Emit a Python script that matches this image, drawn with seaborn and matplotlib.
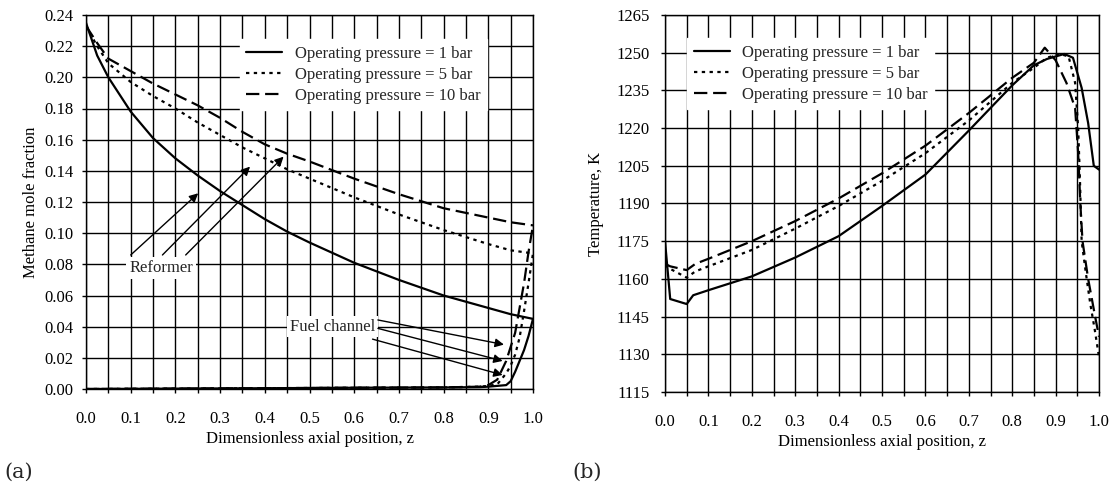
import numpy as np
import pandas as pd
import matplotlib
matplotlib.use("Agg")
import matplotlib.pyplot as plt
import seaborn as sns
from matplotlib.ticker import MultipleLocator
from matplotlib.lines import Line2D

sns.set_theme(style="white")
plt.rcParams['font.family'] = ['Liberation Serif', 'DejaVu Serif']

labels = ["Operating pressure = 1 bar", "Operating pressure = 5 bar", "Operating pressure = 10 bar"]

# ---- (a) methane mole fraction, reformer side ----
z_ref = [0.0, 0.025, 0.05, 0.1, 0.15, 0.2, 0.25, 0.3, 0.35, 0.4, 0.45, 0.5, 0.6, 0.7, 0.8, 0.9, 0.95, 1.0]
ch4_ref_1 = [0.235, 0.214, 0.200, 0.178, 0.161, 0.148, 0.137, 0.127, 0.118, 0.109, 0.101, 0.094, 0.081, 0.070, 0.060, 0.052, 0.048, 0.045]
ch4_ref_5 = [0.233, 0.220, 0.209, 0.197, 0.188, 0.180, 0.171, 0.163, 0.155, 0.148, 0.141, 0.135, 0.123, 0.112, 0.102, 0.093, 0.089, 0.087]
ch4_ref_10 = [0.233, 0.222, 0.212, 0.204, 0.196, 0.189, 0.182, 0.174, 0.165, 0.157, 0.151, 0.146, 0.135, 0.125, 0.116, 0.110, 0.107, 0.105]

# ---- (a) methane mole fraction, fuel channel ----
z_fuel = [0.0, 0.4, 0.6, 0.8, 0.88, 0.9, 0.92, 0.94, 0.95, 0.96, 0.97, 0.98, 0.99, 1.0]
ch4_fuel_1 = [0.0, 0.0005, 0.0008, 0.001, 0.0012, 0.0015, 0.002, 0.0025, 0.005, 0.011, 0.018, 0.025, 0.034, 0.045]
ch4_fuel_5 = [0.0, 0.0005, 0.0008, 0.001, 0.0015, 0.002, 0.003, 0.010, 0.015, 0.022, 0.033, 0.050, 0.068, 0.087]
ch4_fuel_10 = [0.0, 0.0005, 0.0008, 0.001, 0.0015, 0.0025, 0.006, 0.018, 0.027, 0.036, 0.052, 0.068, 0.088, 0.105]

# ---- (b) temperature ----
z_T1 = [0.0, 0.012, 0.05, 0.065, 0.1, 0.2, 0.3, 0.4, 0.5, 0.6, 0.7, 0.8, 0.85, 0.88, 0.92, 0.94, 0.96, 0.975, 0.988, 1.0]
T_1 = [1175, 1152, 1150, 1153.5, 1155.5, 1161, 1168.5, 1177, 1189, 1201.5, 1219, 1237, 1245, 1247.5, 1249.5, 1248, 1236, 1222, 1205, 1203.5]
z_T5 = [0.0, 0.012, 0.05, 0.07, 0.1, 0.2, 0.3, 0.4, 0.5, 0.6, 0.7, 0.8, 0.85, 0.88, 0.91, 0.93, 0.945, 0.952, 0.956, 0.96, 0.97, 0.98, 0.99, 1.0]
T_5 = [1165.5, 1164, 1160.5, 1163, 1165, 1171.5, 1180, 1189, 1199, 1210, 1223, 1238, 1244, 1248, 1249.5, 1248.5, 1238, 1220, 1200, 1175, 1162, 1150, 1140, 1129]
z_T10 = [0.0, 0.012, 0.05, 0.07, 0.1, 0.2, 0.3, 0.4, 0.5, 0.6, 0.7, 0.8, 0.85, 0.875, 0.9, 0.925, 0.945, 0.952, 0.957, 0.962, 0.975, 0.99, 1.0]
T_10 = [1166, 1165, 1163.5, 1166, 1168, 1175, 1183, 1192, 1202, 1213, 1226, 1240, 1246, 1252, 1247, 1238, 1228, 1210, 1190, 1175, 1160, 1146, 1137]

x_ticks = [0.0, 0.1, 0.2, 0.3, 0.4, 0.5, 0.6, 0.7, 0.8, 0.9, 1.0]
y_ticks_a = [0.00, 0.02, 0.04, 0.06, 0.08, 0.10, 0.12, 0.14, 0.16, 0.18, 0.20, 0.22, 0.24]
y_ticks_b = [1115, 1130, 1145, 1160, 1175, 1190, 1205, 1220, 1235, 1250, 1265]

styles = ['-', (0, (1.5, 2.0)), (0, (6.0, 2.6))]
LW = 1.6
FS = 12

fig = plt.figure(figsize=(11.13, 4.93), dpi=100)
W, H = 1113.0, 493.0
axA = fig.add_axes([86 / W, (H - 389) / H, 447 / W, 374 / H])
axB = fig.add_axes([665 / W, (H - 392) / H, 434 / W, 377 / H])

def draw(ax, x, y, ls):
    df = pd.DataFrame({"z": x, "v": y})
    sns.lineplot(data=df, x="z", y="v", ax=ax, color="black", linewidth=LW,
                 linestyle=ls, sort=False, legend=False, zorder=3)

for ys, ls in zip([ch4_ref_1, ch4_ref_5, ch4_ref_10], styles):
    draw(axA, z_ref, ys, ls)
for ys, ls in zip([ch4_fuel_1, ch4_fuel_5, ch4_fuel_10], styles):
    draw(axA, z_fuel, ys, ls)
for zs, ys, ls in zip([z_T1, z_T5, z_T10], [T_1, T_5, T_10], styles):
    draw(axB, zs, ys, ls)

def style_axes(ax, yticks, yfmt, ypad):
    ax.set_xlim(0, 1)
    ax.set_ylim(yticks[0], yticks[-1])
    ax.set_xticks(x_ticks)
    ax.set_xticklabels([f"{t:.1f}" for t in x_ticks])
    ax.xaxis.set_minor_locator(MultipleLocator(0.05))
    ax.set_yticks(yticks)
    ax.set_yticklabels([yfmt.format(t) for t in yticks])
    ax.grid(True, which="both", axis="x", color="black", linewidth=1.0)
    ax.grid(True, which="major", axis="y", color="black", linewidth=1.0)
    ax.tick_params(axis="both", which="both", direction="out", length=3, width=1,
                   color="black", labelsize=FS, labelcolor="black")
    ax.tick_params(axis="x", which="both", pad=13, bottom=True)
    ax.tick_params(axis="y", which="both", pad=ypad, left=True)
    for sp in ax.spines.values():
        sp.set_color("black")
        sp.set_linewidth(1.0)
    ax.set_xlabel("Dimensionless axial position, z", fontsize=FS, color="black", labelpad=3)

style_axes(axA, y_ticks_a, "{:.2f}", 6)
style_axes(axB, y_ticks_b, "{:.0f}", 8)
axA.set_ylabel("Methane mole fraction", fontsize=FS, color="black", labelpad=4)
axB.set_ylabel("Temperature, K", fontsize=FS, color="black", labelpad=9)

handles = [Line2D([0], [0], color="black", lw=LW, linestyle=ls) for ls in styles]
for ax, anchor in [(axA, (0.344, 0.936)), (axB, (0.051, 0.939))]:
    leg = ax.legend(handles, labels, loc="upper left", bbox_to_anchor=anchor,
                    fontsize=FS, frameon=True, fancybox=False, framealpha=1,
                    edgecolor="white", facecolor="white", handlelength=2.15,
                    handletextpad=0.75, labelspacing=0.3, borderpad=0.4,
                    borderaxespad=0)
    leg.set_zorder(5)

box = dict(facecolor="white", edgecolor="none", pad=2)
axA.text(0.168, 0.0776, "Reformer", ha="center", va="center", fontsize=FS,
         bbox=box, zorder=6)
arrow = dict(arrowstyle="-|>", color="black", lw=1.0, mutation_scale=13, shrinkA=0, shrinkB=0)
for tail, head in [((0.10, 0.086), (0.251, 0.1256)),
                   ((0.171, 0.086), (0.367, 0.1427)),
                   ((0.223, 0.086), (0.442, 0.1491))]:
    axA.annotate("", xy=head, xytext=tail, arrowprops=arrow, zorder=6)

axA.text(0.552, 0.040, "Fuel channel", ha="center", va="center", fontsize=FS,
         bbox=box, zorder=6)
for tail, head in [((0.653, 0.0443), (0.935, 0.0285)),
                   ((0.653, 0.0389), (0.932, 0.0180)),
                   ((0.641, 0.0320), (0.932, 0.0090))]:
    axA.annotate("", xy=head, xytext=tail, arrowprops=arrow, zorder=6)

fig.text(4 / W, (H - 472) / H, "(a)", fontsize=15, family="DejaVu Serif", va="center", ha="left")
fig.text(572 / W, (H - 472) / H, "(b)", fontsize=15, family="DejaVu Serif", va="center", ha="left")

fig.savefig("out.png", dpi=100, facecolor="white")
